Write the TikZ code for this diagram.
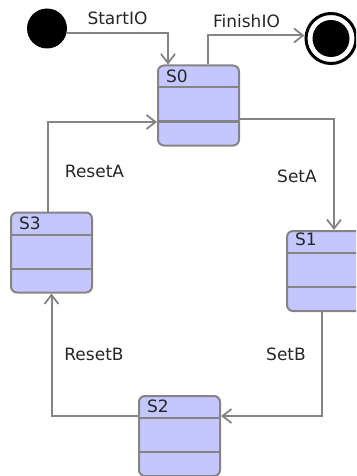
\documentclass[tikz,border=0pt]{standalone}
\usepackage{fontspec}
\setmainfont{DejaVu Sans}
\usetikzlibrary{arrows.meta}
\definecolor{stfill}{RGB}{196,199,255}
\definecolor{stline}{RGB}{132,132,132}
\definecolor{lbltext}{RGB}{38,38,38}
\tikzset{
  state/.style={draw=stline,line width=2pt,fill=stfill,rounded corners=6pt,
    minimum width=81pt,minimum height=80pt,inner sep=0pt},
  divider/.style={stline,line width=2pt},
  sname/.style={anchor=base west,inner sep=0pt,text=lbltext,font=\fontsize{17}{19}\selectfont},
  trans/.style={stline,line width=2pt,-{Straight Barb[length=9pt,width=14pt,line width=1.8pt]}},
  tlabel/.style={anchor=base,inner sep=0pt,text=lbltext,font=\fontsize{17}{19}\selectfont}
}
\begin{document}
\begin{tikzpicture}[x=1pt,y=-1pt]
\useasboundingbox (0,0) rectangle (356,476);
\clip (0,0) rectangle (356,476);
% pseudo states
\node[circle,fill=black,minimum size=40pt,inner sep=0pt] (start) at (47,28.5) {};
\node[circle,draw=black,line width=3pt,fill=white,minimum size=50pt,inner sep=0pt] (fin) at (331,38.5) {};
\fill[black] (fin.center) circle (18.5pt);
% states
\foreach \n/\x/\y/\t/\dy in {s0/198.5/105.5/S0/18, s1/327.5/271/S1/15, s2/179.5/436/S2/17, s3/51.5/252.5/S3/18}{
  \node[state] (\n) at (\x,\y) {};
  \draw[divider] ([yshift=-23pt]\n.north west) -- ([yshift=-23pt]\n.north east);
  \draw[divider] ([yshift=-57pt]\n.north west) -- ([yshift=-57pt]\n.north east);
  \node[sname] at ([xshift=9pt,yshift=-\dy pt]\n.north west) {\t};
}
% transitions
\draw[trans] ([yshift=-4.5pt]start.east) -| ([xshift=-30.5pt]s0.north);
\draw[trans] ([xshift=9.5pt]s0.north) |- ([yshift=3pt]fin.west);
\draw[trans] ([yshift=-13.5pt]s0.east) -| ([xshift=6.5pt]s1.north);
\draw[trans] ([xshift=-6pt]s1.south) |- ([yshift=20pt]s2.east);
\draw[trans] ([yshift=20pt]s2.west) -| (s3.south);
\draw[trans] ([xshift=-3.5pt]s3.north) |- ([yshift=-16.5pt]s0.west);
% labels
\node[tlabel] at (117.5,25) {StartIO};
\node[tlabel] at (246.5,28) {FinishIO};
\node[tlabel] at (94.5,177) {ResetA};
\node[tlabel] at (297,182) {SetA};
\node[tlabel] at (94,360) {ResetB};
\node[tlabel] at (286,360) {SetB};
\end{tikzpicture}
\end{document}
